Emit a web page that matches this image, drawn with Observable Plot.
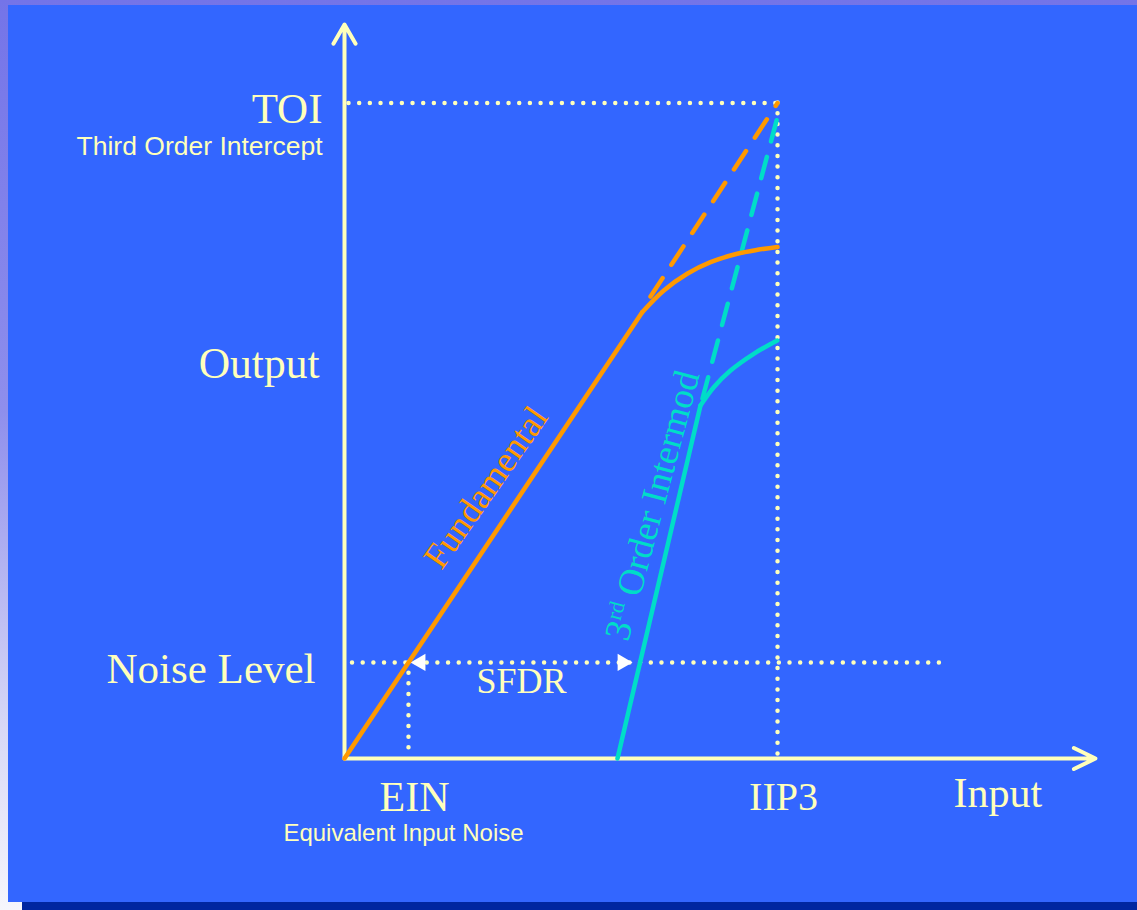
<!DOCTYPE html>
<html><head><meta charset="utf-8">
<script src="https://cdn.jsdelivr.net/npm/d3@7"></script>
<script src="https://cdn.jsdelivr.net/npm/@observablehq/plot@0.6"></script>
<style>
html,body{margin:0;padding:0;width:1137px;height:910px;overflow:hidden;}
body{background:linear-gradient(to bottom,#7474e8 0%,#8e8eec 45%,#d8d8f6 80%,#f6f6fc 100%);position:relative;}
#panel{position:absolute;left:8px;top:5px;width:1140px;height:897px;background:#3366FF;box-shadow:14px 8px 0 #0026A0;}
#chart{position:absolute;left:0;top:0;}
</style></head><body><div id="panel"></div><div id="chart"></div>
<script>
// ---- data (arbitrary dB-like units, 0..100) ----
const axisExtent = [0, 100];
const TOI = 89.3;          // third order intercept (output)
const IIP3 = 57.66;        // input third order intercept
const NOISE = 13.08;       // noise level (output)
const EIN = 8.52;          // equivalent input noise
const SFDR_END = 38.36;    // input where 3rd order meets noise
const NOISE_LINE_END = 80.43;
const OUTPUT_LABEL_Y = 53.8;
const INPUT_LABEL_X = 87.0;

const fundLinearX = [0, 39.64];
const fundLinearY = [0, 60.80];
const fundCompX = [39.64, 42.52, 45.63, 48.74, 52.29, 55.0, 57.66];
const fundCompY = [60.80, 63.76, 66.04, 67.62, 68.76, 69.30, 69.69];
const fundExtX = [40.75, 57.66];
const fundExtY = [62.94, 89.3];

const imLinearX = [36.35, 47.40];
const imLinearY = [0, 48.09];
const imCompX = [47.40, 49.17, 51.40, 54.50, 57.62];
const imCompY = [48.09, 50.59, 52.86, 55.14, 56.95];
const imExtX = [47.67, 57.66];
const imExtY = [49.05, 87.4];

const fundLabelAt = [23.70, 36.92];
const imLabelAt = [44.07, 34.47];

// ---- style ----
const AX = "#FFFFBB";
const ORANGE = "#FF9900";
const TEAL = "#00DDC8";
const SERIF = "Liberation Serif, Times New Roman, serif";
const SANS = "Liberation Sans, Arial, sans-serif";
const dotted = {stroke: AX, strokeWidth: 4.5, strokeLinecap: "round", strokeDasharray: "0 10.67"};

const plot = Plot.plot({
  width: 1137, height: 910,
  marginLeft: 344, marginRight: 42, marginTop: 24, marginBottom: 152,
  x: {domain: axisExtent, axis: null},
  y: {domain: axisExtent, axis: null},
  style: {background: "transparent", overflow: "visible"},
  marks: [
    // dotted guides
    Plot.ruleY([TOI], {x1: 0.6, x2: IIP3, ...dotted}),
    Plot.ruleX([IIP3], {y1: TOI, y2: 0.5, ...dotted}),
    Plot.ruleY([NOISE], {x1: 1.07, x2: NOISE_LINE_END, ...dotted}),
    Plot.ruleX([EIN], {y1: NOISE, y2: 0.8, ...dotted}),
    // SFDR arrowheads
    Plot.dot([EIN], {x: d => d, y: NOISE, symbol: "triangle", r: 6.4, rotate: -90, fill: "white", stroke: "none", dx: 12}),
    Plot.dot([SFDR_END], {x: d => d, y: NOISE, symbol: "triangle", r: 6.4, rotate: 90, fill: "white", stroke: "none", dx: -10}),
    // axes
    Plot.arrow([0], {x1: axisExtent[0], y1: axisExtent[0], x2: axisExtent[0], y2: axisExtent[1], stroke: AX, strokeWidth: 4, headLength: 8.3, headAngle: 60, strokeLinecap: "round"}),
    Plot.arrow([0], {x1: axisExtent[0], y1: axisExtent[0], x2: axisExtent[1], y2: axisExtent[0], stroke: AX, strokeWidth: 4, headLength: 9, headAngle: 52, strokeLinecap: "round"}),
    // dashed extrapolations
    Plot.line(fundExtX, {x: fundExtX, y: fundExtY, stroke: ORANGE, strokeWidth: 4.5, strokeDasharray: "22 16"}),
    Plot.line(imExtX, {x: imExtX, y: imExtY, stroke: TEAL, strokeWidth: 4.5, strokeDasharray: "22 16"}),
    // fundamental
    Plot.line(fundLinearX, {x: fundLinearX, y: fundLinearY, stroke: ORANGE, strokeWidth: 4.5}),
    Plot.line(fundCompX, {x: fundCompX, y: fundCompY, stroke: ORANGE, strokeWidth: 4.5, curve: "catmull-rom"}),
    // 3rd order intermod
    Plot.line(imLinearX, {x: imLinearX, y: imLinearY, stroke: TEAL, strokeWidth: 4.5}),
    Plot.line(imCompX, {x: imCompX, y: imCompY, stroke: TEAL, strokeWidth: 4.5, curve: "catmull-rom"}),
    // curve labels
    Plot.text(["Fundamental"], {x: fundLabelAt[0], y: fundLabelAt[1], text: d => d, rotate: -55, dx: -36.5, fill: ORANGE, fontSize: 36, fontFamily: SERIF}),
    Plot.text(["3rd Order Intermod"], {x: imLabelAt[0], y: imLabelAt[1], text: d => d, rotate: -75, dx: -23, fill: TEAL, fontSize: 37, fontFamily: SERIF}),
    // y labels
    Plot.text(["TOI"], {x: 0, y: TOI, text: d => d, dx: -22, dy: 6, textAnchor: "end", fill: AX, fontSize: 43, fontFamily: SERIF}),
    Plot.text(["Third Order Intercept"], {x: 0, y: TOI, text: d => d, dx: -22, dy: 43, textAnchor: "end", fill: AX, fontSize: 26.5, fontFamily: SANS}),
    Plot.text(["Output"], {x: 0, y: OUTPUT_LABEL_Y, text: d => d, dx: -25, textAnchor: "end", fill: AX, fontSize: 43.5, fontFamily: SERIF}),
    Plot.text(["Noise Level"], {x: 0, y: NOISE, text: d => d, dx: -29, dy: 7, textAnchor: "end", fill: AX, fontSize: 43, fontFamily: SERIF}),
    // x labels
    Plot.text(["EIN"], {x: EIN, y: 0, text: d => d, dx: 6, dy: 39, fill: AX, fontSize: 42, fontFamily: SERIF}),
    Plot.text(["Equivalent Input Noise"], {x: EIN, y: 0, text: d => d, dx: -5, dy: 75, fill: AX, fontSize: 24, fontFamily: SANS}),
    Plot.text(["IIP3"], {x: IIP3, y: 0, text: d => d, dx: 6, dy: 39, fill: AX, fontSize: 40, fontFamily: SERIF}),
    Plot.text(["Input"], {x: INPUT_LABEL_X, y: 0, text: d => d, dy: 35, fill: AX, fontSize: 42, fontFamily: SERIF}),
    Plot.text(["SFDR"], {x: (EIN + SFDR_END) / 2, y: NOISE, text: d => d, dx: 1, dy: 19, fill: AX, fontSize: 36, fontFamily: SERIF})
  ]
});
document.getElementById("chart").appendChild(plot);

// superscript for "3rd"
d3.select(plot).selectAll("text").filter(function(){ return this.textContent === "3rd Order Intermod"; }).each(function(){
  const t = d3.select(this);
  t.text(null);
  t.append("tspan").text("3");
  t.append("tspan").attr("font-size", "22px").attr("dy", "-13").text("rd");
  t.append("tspan").attr("dy", "13").text(" Order Intermod");
});
</script>
</body></html>
